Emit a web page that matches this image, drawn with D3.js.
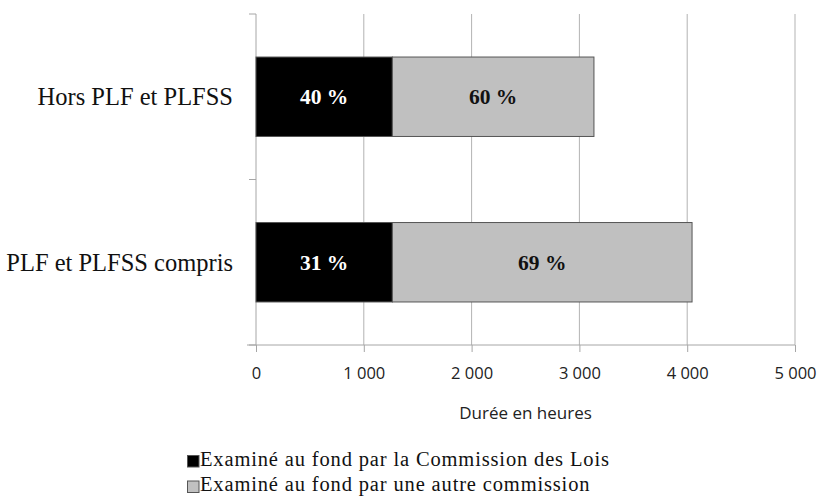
<!DOCTYPE html>
<html>
<head>
<meta charset="utf-8">
<script src="https://cdn.jsdelivr.net/npm/d3@7"></script>
<style>
  body { margin: 0; background: #fff; }
  svg { display: block; }
</style>
</head>
<body>
<figure id="chart" style="margin:0"></figure>
<script>
// data
const categories = ['Hors PLF et PLFSS', 'PLF et PLFSS compris'];
const commissionLois = [1265, 1265];
const autreCommission = [1870, 2780];
const percentLois = ['40 %', '31 %'];
const percentAutre = ['60 %', '69 %'];
const seriesNames = ['Examiné au fond par la Commission des Lois', 'Examiné au fond par une autre commission'];
const xTicks = [0, 1000, 2000, 3000, 4000, 5000];
const colors = ['#000000', '#c0c0c0'];

const width = 820, height = 496;
const margin = { top: 14, left: 256, right: 25, bottom: 151 };
const plotW = width - margin.left - margin.right;
const plotH = height - margin.top - margin.bottom;

const svg = d3.select('figure#chart')
  .append('svg')
  .attr('width', width)
  .attr('height', height);

const g = svg.append('g')
  .attr('transform', 'translate(' + margin.left + ',' + margin.top + ')');

const x = d3.scaleLinear().domain([0, 5000]).range([0, plotW]);
const y = d3.scaleBand().domain(categories).range([0, plotH]).paddingInner(0.52).paddingOuter(0.26);

// gridlines
g.selectAll('.grid')
  .data(xTicks.slice(1))
  .enter()
  .append('line')
  .attr('x1', d => x(d)).attr('x2', d => x(d))
  .attr('y1', 0).attr('y2', plotH)
  .attr('stroke', '#b3b3b3')
  .attr('stroke-width', 1);

// y axis line and ticks
g.append('line')
  .attr('x1', 0).attr('x2', 0).attr('y1', 0).attr('y2', plotH)
  .attr('stroke', '#a6a6a6');
[0, plotH / 2, plotH].forEach(t => {
  g.append('line')
    .attr('x1', -7).attr('x2', 0).attr('y1', t).attr('y2', t)
    .attr('stroke', '#a6a6a6');
});

// x axis
const xAxis = g.append('g')
  .attr('transform', 'translate(0,' + plotH + ')')
  .call(d3.axisBottom(x).tickValues(xTicks).tickSize(7).tickPadding(15)
    .tickFormat(d => d3.format(',')(d).replace(',', ' ')));
xAxis.select('.domain').remove();
xAxis.selectAll('line').attr('stroke', '#a6a6a6');
xAxis.selectAll('text')
  .attr('font-family', 'Open Sans, sans-serif')
  .attr('font-size', 16.5)
  .attr('fill', '#222');
g.append('line')
  .attr('x1', -9).attr('x2', plotW).attr('y1', plotH).attr('y2', plotH)
  .attr('stroke', '#a6a6a6');

g.append('text')
  .attr('x', x(2500))
  .attr('y', plotH + 68)
  .attr('dy', '0.35em')
  .attr('text-anchor', 'middle')
  .attr('font-family', 'Open Sans, sans-serif')
  .attr('font-size', 17)
  .attr('fill', '#222')
  .text('Durée en heures');

// category labels
g.selectAll('.cat')
  .data(categories)
  .enter()
  .append('text')
  .attr('x', -23)
  .attr('y', d => y(d) + y.bandwidth() / 2)
  .attr('dy', '0.35em')
  .attr('text-anchor', 'end')
  .attr('font-family', 'Liberation Serif, serif')
  .attr('font-size', 24.5)
  .attr('fill', '#111')
  .text(d => d);

// bars
const rows = categories.map((c, i) => ({
  cat: c,
  a: commissionLois[i],
  b: autreCommission[i],
  pa: percentLois[i],
  pb: percentAutre[i]
}));

rows.forEach(r => {
  g.append('rect')
    .attr('x', x(0))
    .attr('y', y(r.cat))
    .attr('width', x(r.a) - x(0))
    .attr('height', y.bandwidth())
    .attr('fill', colors[0])
    .attr('stroke', '#555')
    .attr('stroke-width', 1);
  g.append('rect')
    .attr('x', x(r.a))
    .attr('y', y(r.cat))
    .attr('width', x(r.a + r.b) - x(r.a))
    .attr('height', y.bandwidth())
    .attr('fill', colors[1])
    .attr('stroke', '#555')
    .attr('stroke-width', 1);
  g.append('text')
    .attr('x', x(r.a / 2))
    .attr('y', y(r.cat) + y.bandwidth() / 2)
    .attr('dy', '0.35em')
    .attr('text-anchor', 'middle')
    .attr('font-family', 'Liberation Serif, serif')
    .attr('font-weight', 'bold')
    .attr('font-size', 21.5)
    .attr('fill', '#fff')
    .text(r.pa);
  g.append('text')
    .attr('x', x(r.a + r.b / 2))
    .attr('y', y(r.cat) + y.bandwidth() / 2)
    .attr('dy', '0.35em')
    .attr('text-anchor', 'middle')
    .attr('font-family', 'Liberation Serif, serif')
    .attr('font-weight', 'bold')
    .attr('font-size', 21.5)
    .attr('fill', '#111')
    .text(r.pb);
});

// legend
const legend = svg.append('g').attr('transform', 'translate(187,455)');
seriesNames.forEach((name, i) => {
  legend.append('rect')
    .attr('x', 0.5)
    .attr('y', i * 25.5 + 0.5)
    .attr('width', 11.5)
    .attr('height', 11.5)
    .attr('fill', colors[i])
    .attr('stroke', '#555');
  legend.append('text')
    .attr('x', 13)
    .attr('y', i * 25 + 10.5)
    .attr('font-family', 'Liberation Serif, serif')
    .attr('font-size', 20.5)
    .attr('letter-spacing', 0.85)
    .attr('fill', '#111')
    .text(name);
});
</script>
</body>
</html>
